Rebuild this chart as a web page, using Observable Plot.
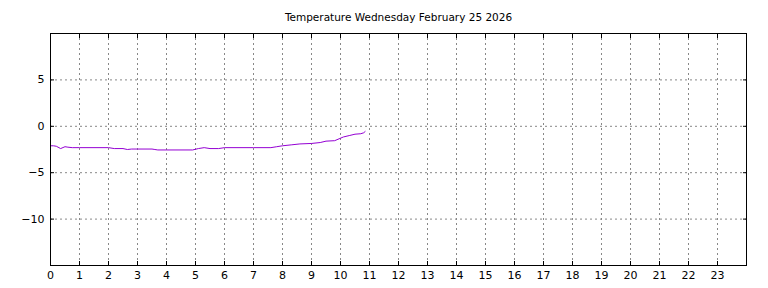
<!DOCTYPE html>
<html>
<head>
<meta charset="utf-8">
<script src="https://cdn.jsdelivr.net/npm/d3@7"></script>
<script src="https://cdn.jsdelivr.net/npm/@observablehq/plot@0.6"></script>
<style>
html,body{margin:0;padding:0;background:#fff;}
svg{display:block;}
</style>
</head>
<body>
<div id="chart"></div>
<script>
const title = "Temperature Wednesday February 25 2026";
const hours = [0,0.1,0.2,0.35,0.5,0.6,0.75,1,1.5,2,2.2,2.5,2.65,2.8,3,3.5,3.6,3.7,4,4.5,4.9,5.1,5.3,5.5,5.8,6,6.5,7,7.6,7.8,8,8.3,8.6,9,9.3,9.5,9.8,9.95,10.1,10.3,10.5,10.7,10.8,10.85];
const temps = [-2.1,-2.1,-2.15,-2.4,-2.2,-2.25,-2.3,-2.3,-2.3,-2.3,-2.4,-2.4,-2.5,-2.45,-2.45,-2.45,-2.5,-2.55,-2.55,-2.55,-2.55,-2.4,-2.3,-2.4,-2.4,-2.3,-2.3,-2.3,-2.3,-2.2,-2.1,-2.0,-1.9,-1.85,-1.75,-1.6,-1.55,-1.35,-1.15,-1.0,-0.85,-0.8,-0.7,-0.56];
const xTicks = d3.range(0, 24);
const yTicks = [-10, -5, 0, 5];

const data = hours.map((h, i) => ({h, t: temps[i]}));

const chart = Plot.plot({
  width: 768,
  height: 288,
  marginLeft: 50,
  marginRight: 22,
  marginTop: 33,
  marginBottom: 23,
  style: {fontFamily: "DejaVu Sans", fontSize: "11px", color: "#000", background: "#fff"},
  x: {domain: [0, 24]},
  y: {domain: [-15, 10]},
  marks: [
    Plot.ruleX(xTicks.slice(1), {stroke: "#888", strokeDasharray: "2,3", strokeOpacity: 1}),
    Plot.ruleY(yTicks, {stroke: "#888", strokeDasharray: "2,3", strokeOpacity: 1}),
    Plot.axisX({ticks: xTicks, tickSize: -4, tickPadding: 10, label: null, fontSize: 11}),
    Plot.axisX({ticks: xTicks, anchor: "top", tickSize: -4, tickFormat: () => "", label: null}),
    Plot.axisY({ticks: yTicks, tickSize: -4, tickPadding: 10, label: null, fontSize: 11}),
    Plot.axisY({ticks: yTicks, anchor: "right", tickSize: -4, tickFormat: () => "", label: null}),
    Plot.line(data, {x: "h", y: "t", stroke: "#9400d3", strokeWidth: 1}),
    Plot.frame({stroke: "#000", strokeWidth: 1}),
    Plot.text([title], {frameAnchor: "top", dy: -20, dx: 0, fontSize: 10.5, fill: "#000"})
  ]
});
document.getElementById("chart").appendChild(chart);
</script>
</body>
</html>
